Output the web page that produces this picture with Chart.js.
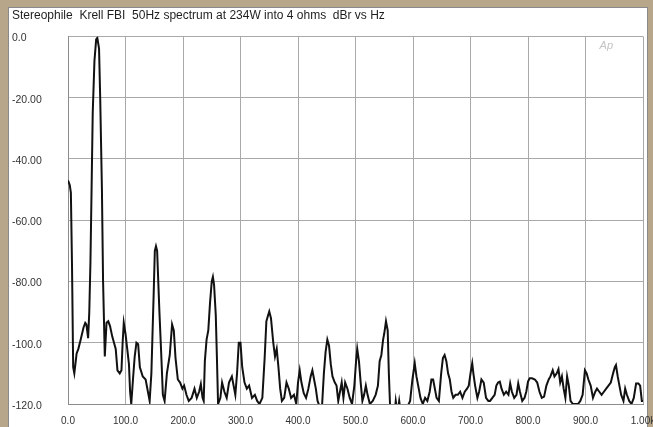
<!DOCTYPE html>
<html>
<head>
<meta charset="utf-8">
<script src="https://cdn.jsdelivr.net/npm/chart.js@4.4.1/dist/chart.umd.min.js"></script>
<style>
  html, body { margin: 0; padding: 0; background: #b8a68a; }
  #wrap { position: absolute; left: 0; top: 0; width: 653px; height: 427px; }
</style>
</head>
<body>
<div id="wrap"><canvas id="c" width="653" height="427"></canvas></div>
<script>
const titleText = "Stereophile  Krell FBI  50Hz spectrum at 234W into 4 ohms  dBr vs Hz";
const yTickValues = [0, -20, -40, -60, -80, -100, -120];
const yTickLabels = ["0.0", "-20.00", "-40.00", "-60.00", "-80.00", "-100.0", "-120.0"];
const xTickValues = [0, 100, 200, 300, 400, 500, 600, 700, 800, 900, 1000];
const xTickLabels = ["0.0", "100.0", "200.0", "300.0", "400.0", "500.0", "600.0", "700.0", "800.0", "900.0", "1.00k"];

const freqHz = [
  0, 3, 5, 7, 9, 11, 15, 18, 22, 27, 30, 32, 35, 37, 39, 41, 43, 46, 49, 51, 54, 56, 59, 61, 64, 67, 70, 73, 77, 80,
  83, 86, 90, 93, 95, 97, 100, 103, 106, 108, 110, 113, 116, 119, 122, 125, 130, 135, 139, 142, 145, 147, 149, 151, 153, 155, 157, 159, 162, 165,
  168, 172, 177, 181, 184, 187, 191, 195, 199, 202, 206, 210, 215, 220, 224, 228, 231, 234, 236, 238, 241, 244, 247, 250, 252, 254, 257, 259, 261, 265,
  268, 272, 276, 280, 285, 288, 291, 294, 297, 300, 303, 307, 311, 315, 320, 325, 329, 333, 338, 342, 345, 348, 350, 353, 357, 360, 363, 366, 369, 372,
  376, 380, 384, 388, 393, 397, 400, 403, 406, 410, 414, 418, 422, 425, 428, 431, 434, 438, 442, 445, 448, 451, 454, 457, 460, 464, 467, 470, 473, 476,
  479, 482, 486, 490, 494, 498, 501, 503, 506, 509, 512, 515, 518, 521, 525, 530, 535, 539, 542, 545, 548, 550, 553, 556, 558, 560, 563, 568, 570, 573,
  576, 579, 585, 590, 595, 599, 603, 606, 610, 613, 617, 621, 625, 629, 632, 635, 638, 641, 645, 649, 652, 655, 658, 661, 664, 667, 670, 674, 678, 682,
  686, 690, 694, 697, 700, 703, 705, 708, 712, 715, 719, 723, 727, 731, 734, 738, 742, 745, 748, 751, 754, 758, 762, 766, 769, 772, 776, 780, 783, 786,
  790, 794, 797, 800, 803, 807, 812, 816, 820, 824, 828, 832, 836, 839, 843, 846, 850, 853, 856, 859, 862, 865, 868, 871, 874, 878, 882, 887, 891, 895,
  899, 902, 905, 909, 913, 917, 920, 924, 928, 932, 936, 940, 944, 948, 951, 953, 956, 959, 962, 966, 969, 972, 976, 980, 984, 988, 992, 995, 998, 1000
];
const levelDb = [
  -47, -48.5, -51, -75, -108, -110, -103.5, -102, -99, -95, -93.5, -94, -98.5, -90, -74, -50, -25, -8, -1, -0.5, -4, -20, -50, -80, -104.5, -93.5, -93, -94.5, -98, -100,
  -102, -109, -110, -109, -100, -93.5, -97, -102, -107, -116, -120, -112, -104.5, -100, -100.5, -108, -111, -112, -116, -119, -110, -97, -84, -70, -68.5, -70, -80, -90, -103, -117,
  -119, -110, -104, -94, -96, -105, -112, -113, -115, -114, -117, -119, -118, -115, -118, -116, -113.5, -118, -119, -106, -99, -96, -87, -80, -78.5, -81, -91, -105, -120, -118,
  -113, -116, -118, -113, -111, -114, -117, -110, -100, -100, -108, -113, -115, -114, -118, -117, -119, -120, -118, -105, -93, -91, -89.8, -92, -100, -104.5, -102, -108, -115, -119,
  -118, -113, -115, -118, -117, -120, -113, -109, -113, -116.5, -118, -115, -111, -109, -112, -115, -119, -121, -120, -110, -103, -99, -101, -107, -111, -113, -114, -119, -116, -113,
  -118, -113, -115, -118, -120, -114, -106, -102, -106, -113, -119, -117, -114, -117, -120, -119, -117, -114, -106, -104, -99, -97, -93, -96, -110, -120, -123, -123, -119, -123,
  -119, -123, -123, -121, -119, -112, -106.7, -111, -115, -118, -120, -118, -119, -116, -112, -112, -115, -118, -119, -110, -105, -104, -106, -110, -112, -116, -118, -117, -117, -116,
  -118, -116, -115, -114, -110, -106.7, -110, -114, -118, -116, -112, -113, -118, -119, -119, -118, -117, -114, -113, -112.7, -115, -117, -116, -117, -113.3, -116, -118, -117, -113.3, -116,
  -119, -118, -116, -112.7, -111.6, -111.6, -112, -113, -116, -118, -117.6, -114, -112, -111, -109, -111, -110, -108.6, -113, -111, -115, -118, -111, -114, -119, -120, -120, -120, -119, -117,
  -109, -110, -112, -114, -118, -116, -115, -116, -117, -116, -115, -114, -113, -110, -108, -107.3, -111, -114, -117, -119, -115, -117, -119, -120, -118, -113.3, -113.3, -114, -119, -119
];

const FONT = "'Liberation Sans', Arial, sans-serif";

const backgroundPlugin = {
  id: 'panel',
  beforeDraw(chart) {
    const ctx = chart.ctx;
    ctx.save();
    ctx.fillStyle = '#b8a68a';
    ctx.fillRect(0, 0, chart.width, chart.height);
    ctx.fillStyle = '#ffffff';
    ctx.fillRect(8, 7, 640, 420);
    ctx.strokeStyle = '#8a8a8a';
    ctx.lineWidth = 1;
    ctx.strokeRect(8.5, 7.5, 639, 425);
    ctx.restore();
  },
  afterDatasetsDraw(chart) {
    const ctx = chart.ctx;
    const a = chart.chartArea;
    ctx.save();
    ctx.font = "italic 11px " + FONT;
    ctx.fillStyle = '#c4c4c4';
    ctx.textAlign = 'right';
    ctx.textBaseline = 'middle';
    ctx.fillText('Ap', a.right - 30, a.top + 10);
    ctx.restore();
  }
};

new Chart(document.getElementById('c'), {
  type: 'line',
  data: {
    datasets: [{
      data: freqHz.map((f, i) => ({ x: f, y: levelDb[i] })),
      borderColor: '#111111',
      borderWidth: 2,
      pointRadius: 0,
      tension: 0,
      fill: false
    }]
  },
  options: {
    responsive: false,
    animation: false,
    devicePixelRatio: 1,
    layout: { padding: { left: 12, right: 10, top: 0, bottom: 0 } },
    plugins: {
      legend: { display: false },
      tooltip: { enabled: false },
      title: {
        display: true,
        text: titleText,
        align: 'start',
        color: '#1e1e1e',
        font: { family: FONT, size: 12, weight: 'normal' },
        padding: { top: 8, bottom: 14 }
      }
    },
    scales: {
      x: {
        type: 'linear',
        min: 0,
        max: 1000,
        afterBuildTicks(scale) { scale.ticks = xTickValues.map(v => ({ value: v })); },
        afterFit(scale) { scale.paddingLeft = 0; scale.paddingRight = 0; scale.paddingBottom = 0; scale.height = 23; },
        ticks: {
          callback: (v) => { const i = xTickValues.indexOf(v); return i >= 0 ? xTickLabels[i] : ''; },
          color: '#333333',
          font: { family: FONT, size: 10 },
          padding: 11,
          maxRotation: 0,
          autoSkip: false
        },
        grid: { color: '#a9a9a9', lineWidth: 1, drawTicks: false },
        border: { color: '#8c8c8c' }
      },
      y: {
        type: 'linear',
        min: -120,
        max: 0,
        afterBuildTicks(scale) { scale.ticks = yTickValues.map(v => ({ value: v })); },
        afterFit(scale) { scale.width = 56; scale.paddingTop = 0; scale.paddingBottom = 0; },
        ticks: {
          callback: (v) => { const i = yTickValues.indexOf(v); return i >= 0 ? yTickLabels[i] : ''; },
          color: '#333333',
          font: { family: FONT, size: 10.5 },
          crossAlign: 'far',
          labelOffset: 2,
          autoSkip: false
        },
        grid: { color: '#a9a9a9', lineWidth: 1, drawTicks: false },
        border: { color: '#8c8c8c' }
      }
    }
  },
  plugins: [backgroundPlugin]
});
</script>
</body>
</html>
